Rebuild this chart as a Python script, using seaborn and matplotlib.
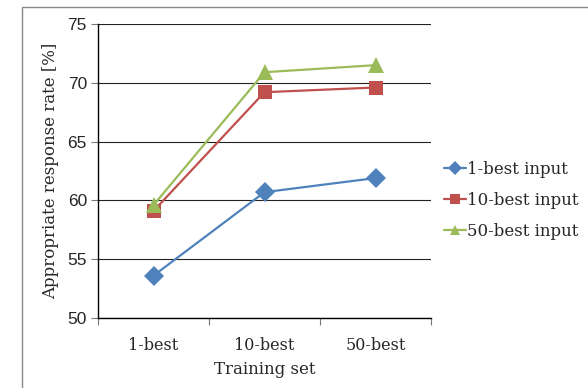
import matplotlib
matplotlib.use("Agg")
import matplotlib.pyplot as plt
import seaborn as sns
import pandas as pd
from matplotlib.patches import Rectangle

# Dados
training_sets = ["1-best", "10-best", "50-best"]
series_names = ["1-best input", "10-best input", "50-best input"]
rate_1best = [53.6, 60.7, 61.9]
rate_10best = [59.1, 69.2, 69.6]
rate_50best = [59.6, 70.9, 71.5]
y_ticks = [50, 55, 60, 65, 70, 75]

colors = ["#4F81BD", "#C0504D", "#9BBB59"]
markers = ["D", "s", "^"]
marker_sizes = [10, 10, 11]

rows = []
for name, vals in zip(series_names, [rate_1best, rate_10best, rate_50best]):
    for ts, v in zip(training_sets, vals):
        rows.append({"training": ts, "rate": v, "series": name})
df = pd.DataFrame(rows)

sns.set_style("white")
plt.rcParams['font.family'] = ['DejaVu Serif']

fig = plt.figure(figsize=(5.88, 3.88), dpi=100)
fig.patches.append(Rectangle((22 / 588, -0.1), 1.0, 1 - 7 / 388 + 0.1,
                             transform=fig.transFigure, fill=False,
                             edgecolor="#888888", linewidth=1.0))
ax = fig.add_axes([98 / 588, 1 - 318 / 388, (431 - 98) / 588, (318 - 24) / 388])

for name, c, m, ms in zip(series_names, colors, markers, marker_sizes):
    sub = df[df["series"] == name]
    sns.lineplot(data=sub, x="training", y="rate", ax=ax, color=c, marker=m,
                 markersize=ms, markeredgewidth=0, linewidth=1.6, sort=False,
                 label=name)

ax.set_xlim(-0.5, 2.5)
ax.set_ylim(50, 75)
ax.set_yticks(y_ticks)
ax.set_yticklabels([str(t) for t in y_ticks], fontfamily="Liberation Sans", fontsize=12.5)
ax.set_xticks(range(len(training_sets)))
ax.set_xticklabels(training_sets, fontsize=11.5)
ax.set_xticks([-0.5, 0.5, 1.5, 2.5], minor=True)
ax.tick_params(axis="x", which="major", length=0, pad=14)
ax.tick_params(axis="x", which="minor", length=5, width=0.8, color="#777777", direction="out", bottom=True)
ax.tick_params(axis="y", length=5, width=0.8, color="#777777", direction="out", left=True, pad=3)

ax.grid(axis="y", color="#222222", linewidth=0.8)
ax.set_axisbelow(True)
for s in ["top", "right"]:
    ax.spines[s].set_visible(False)
for s in ["left", "bottom"]:
    ax.spines[s].set_color("black")
    ax.spines[s].set_linewidth(1.0)

ax.set_xlabel("Training set", fontsize=12, labelpad=5)
ax.set_ylabel("Appropriate response rate [%]", fontsize=12, labelpad=6)

leg = ax.legend(loc="center left", bbox_to_anchor=(1.02, 0.40), frameon=False,
                fontsize=12, handlelength=1.3, handletextpad=0.05,
                labelspacing=0.85, borderaxespad=0)
for h in leg.legend_handles:
    h.set_markersize(7)

fig.savefig("out.png", dpi=100)
